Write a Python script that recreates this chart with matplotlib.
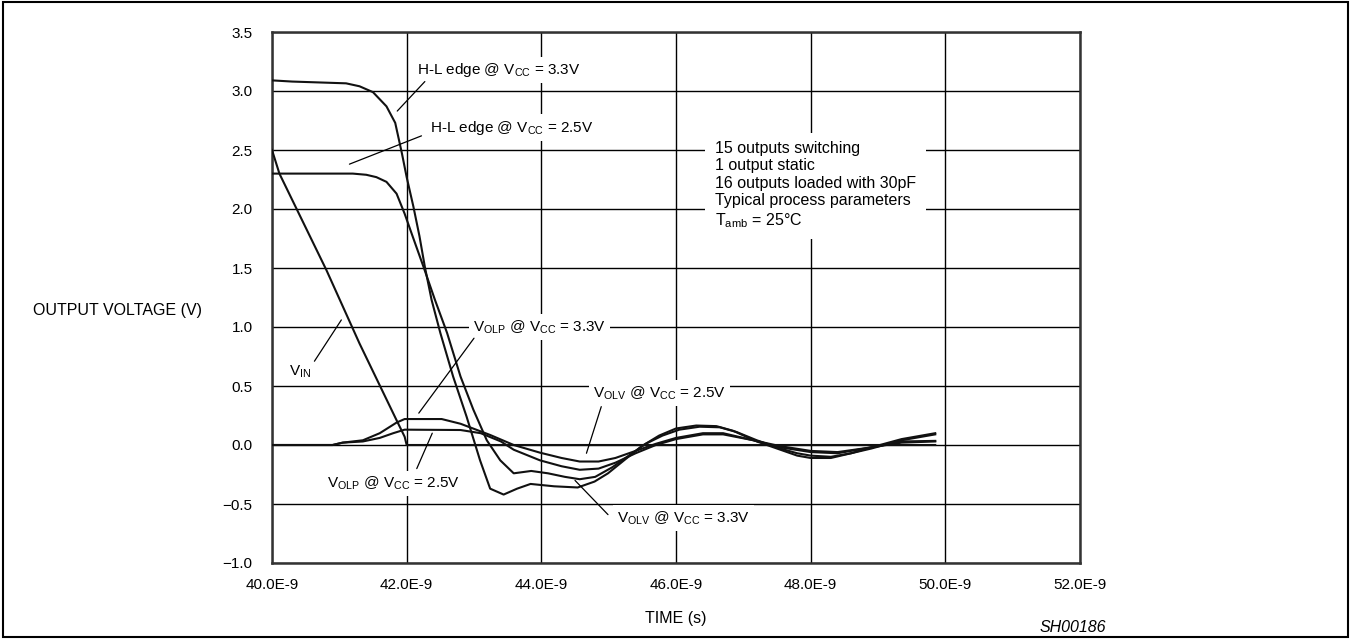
import matplotlib
matplotlib.use('Agg')
import matplotlib.pyplot as plt
from matplotlib.patches import Rectangle

plt.rcParams['font.family'] = ['Liberation Sans', 'DejaVu Sans']
plt.rcParams['mathtext.default'] = 'regular'

# time axis in ns, tick labels as printed on the sheet
x_ticks = [40, 42, 44, 46, 48, 50, 52]
x_labels = ['40.0E-9', '42.0E-9', '44.0E-9', '46.0E-9', '48.0E-9', '50.0E-9', '52.0E-9']
y_ticks = [-1.0, -0.5, 0.0, 0.5, 1.0, 1.5, 2.0, 2.5, 3.0, 3.5]
y_labels = ['\u22121.0', '\u22120.5', '0.0', '0.5', '1.0', '1.5', '2.0', '2.5', '3.0', '3.5']

# input
vin_t = [40.0, 40.11, 40.81, 41.30, 41.85, 41.97, 42.0, 49.85]
vin_v = [2.50, 2.30, 1.48, 0.86, 0.21, 0.07, 0.0, 0.0]

# switching output, Vcc = 3.3V
hl33_t = [40.0, 40.3, 41.1, 41.3, 41.5, 41.7, 41.83, 41.93, 42.0, 42.1, 42.19, 42.27, 42.37, 42.5,
          42.69, 42.89, 43.09, 43.24, 43.44, 43.64, 43.84, 44.19, 44.54, 44.79, 44.99, 45.25, 45.49,
          45.75, 46.0, 46.3, 46.6, 46.85, 47.2, 47.55, 47.8, 48.0, 48.3, 48.6, 48.9, 49.35, 49.85]
hl33_v = [3.09, 3.08, 3.065, 3.04, 2.99, 2.87, 2.73, 2.47, 2.27, 2.02, 1.77, 1.51, 1.23, 0.95,
          0.58, 0.24, -0.13, -0.37, -0.42, -0.37, -0.33, -0.35, -0.36, -0.31, -0.24, -0.12, -0.01,
          0.08, 0.14, 0.165, 0.16, 0.12, 0.03, -0.04, -0.09, -0.11, -0.11, -0.07, -0.02, 0.05, 0.10]

# switching output, Vcc = 2.5V
hl25_t = [40.0, 41.2, 41.4, 41.55, 41.7, 41.85, 41.97, 42.1, 42.25, 42.42, 42.6, 42.8, 42.99, 43.19,
          43.39, 43.59, 43.85, 44.1, 44.35, 44.57, 44.8, 45.05, 45.3, 45.55, 45.8, 46.05, 46.35,
          46.65, 46.9, 47.2, 47.55, 47.8, 48.0, 48.3, 48.6, 48.9, 49.35, 49.85]
hl25_v = [2.30, 2.30, 2.29, 2.27, 2.23, 2.13, 1.96, 1.75, 1.51, 1.23, 0.95, 0.58, 0.30, 0.04,
          -0.13, -0.24, -0.22, -0.24, -0.27, -0.29, -0.27, -0.19, -0.09, 0.01, 0.08, 0.13, 0.155,
          0.15, 0.11, 0.04, -0.03, -0.07, -0.09, -0.10, -0.07, -0.03, 0.04, 0.09]

# quiet output, Vcc = 3.3V
q33_t = [40.0, 40.9, 41.05, 41.35, 41.6, 41.85, 41.97, 42.52, 42.8, 43.24, 43.59, 43.98, 44.3,
         44.57, 44.85, 45.1, 45.4, 45.7, 46.0, 46.4, 46.7, 47.15, 47.55, 48.0, 48.4, 48.9, 49.35, 49.85]
q33_v = [0.0, 0.0, 0.02, 0.04, 0.10, 0.19, 0.22, 0.22, 0.18, 0.085, 0.0, -0.065, -0.11,
         -0.14, -0.14, -0.11, -0.05, 0.01, 0.06, 0.10, 0.10, 0.04, -0.02, -0.06, -0.07, -0.02, 0.03, 0.035]

# quiet output, Vcc = 2.5V
q25_t = [40.0, 40.9, 41.05, 41.35, 41.6, 41.8, 41.97, 42.8, 43.1, 43.4, 43.59, 43.98, 44.3,
         44.57, 44.85, 45.1, 45.4, 45.7, 46.0, 46.4, 46.7, 47.15, 47.55, 48.0, 48.4, 48.9, 49.35, 49.85]
q25_v = [0.0, 0.0, 0.02, 0.03, 0.06, 0.10, 0.13, 0.127, 0.10, 0.03, -0.04, -0.13, -0.18,
         -0.21, -0.20, -0.15, -0.07, 0.0, 0.05, 0.09, 0.09, 0.04, -0.01, -0.05, -0.06, -0.02, 0.02, 0.03]

# callouts: text, text anchor, leader start, leader end
labels = [r'H-L edge @ V$_{CC}$ = 3.3V', r'H-L edge @ V$_{CC}$ = 2.5V', r'V$_{IN}$',
          r'V$_{OLP}$ @ V$_{CC}$ = 3.3V', r'V$_{OLP}$ @ V$_{CC}$ = 2.5V',
          r'V$_{OLV}$ @ V$_{CC}$ = 2.5V', r'V$_{OLV}$ @ V$_{CC}$ = 3.3V']
label_xy = [(42.15, 3.18), (42.35, 2.69), (40.25, 0.62), (42.99, 1.0), (40.82, -0.325),
            (44.77, 0.44), (45.12, -0.62)]
lead_from = [(42.27, 3.08), (42.22, 2.62), (40.63, 0.71), (43.0, 0.905), (42.15, -0.20),
             (44.89, 0.325), (44.99, -0.59)]
lead_to = [(41.86, 2.83), (41.15, 2.38), (41.03, 1.06), (42.18, 0.27), (42.38, 0.10),
           (44.67, -0.07), (44.5, -0.30)]

conditions = ('15 outputs switching\n1 output static\n16 outputs loaded with 30pF\n'
              'Typical process parameters\nT$_{amb}$ = 25\u00b0C')

fig = plt.figure(figsize=(13.51, 6.39), dpi=100)
ax = fig.add_axes([272 / 1351, 1 - 563 / 639, 808 / 1351, 531 / 639])

for t, v in [(vin_t, vin_v), (hl33_t, hl33_v), (hl25_t, hl25_v), (q33_t, q33_v), (q25_t, q25_v)]:
    ax.plot(t, v, color='#111111', lw=1.5, zorder=3)

ax.set_xlim(40, 52)
ax.set_ylim(-1.0, 3.5)
ax.set_xticks(x_ticks)
ax.set_xticklabels(x_labels)
ax.set_yticks(y_ticks)
ax.set_yticklabels(y_labels)
ax.tick_params(length=0, labelsize=11)
ax.tick_params(axis='x', pad=11)
ax.tick_params(axis='y', pad=14)
ax.grid(True, color='black', lw=1.0, zorder=1)
ax.set_axisbelow(True)
for s in ax.spines.values():
    s.set_linewidth(1.8)
    s.set_color('#333333')

for txt, xy, a, b in zip(labels, label_xy, lead_from, lead_to):
    ax.text(xy[0], xy[1], txt, fontsize=11, ha='left', va='center', zorder=5,
            bbox=dict(facecolor='white', edgecolor='none', pad=3))
    ax.annotate('', xy=b, xytext=a, zorder=6,
                arrowprops=dict(arrowstyle='-', color='black', lw=0.9, shrinkA=0, shrinkB=0))

ax.text(46.58, 2.2, conditions, fontsize=11.5, ha='left', va='center', linespacing=1.2, zorder=5,
        bbox=dict(facecolor='white', edgecolor='none', pad=7))

fig.text(202 / 1351, 1 - 310 / 639, 'OUTPUT VOLTAGE (V)', fontsize=11.5, ha='right', va='center')
fig.text(676 / 1351, 1 - 619 / 639, 'TIME (s)', fontsize=11.5, ha='center', va='center')
fig.text(1073 / 1351, 1 - 627 / 639, 'SH00186', fontsize=11.5, ha='center', va='center', style='italic')

fig.patches.append(Rectangle((0.002, 0.003), 0.996, 0.994, transform=fig.transFigure,
                             fill=False, edgecolor='black', lw=1.5))

fig.savefig('out.png', dpi=100)
